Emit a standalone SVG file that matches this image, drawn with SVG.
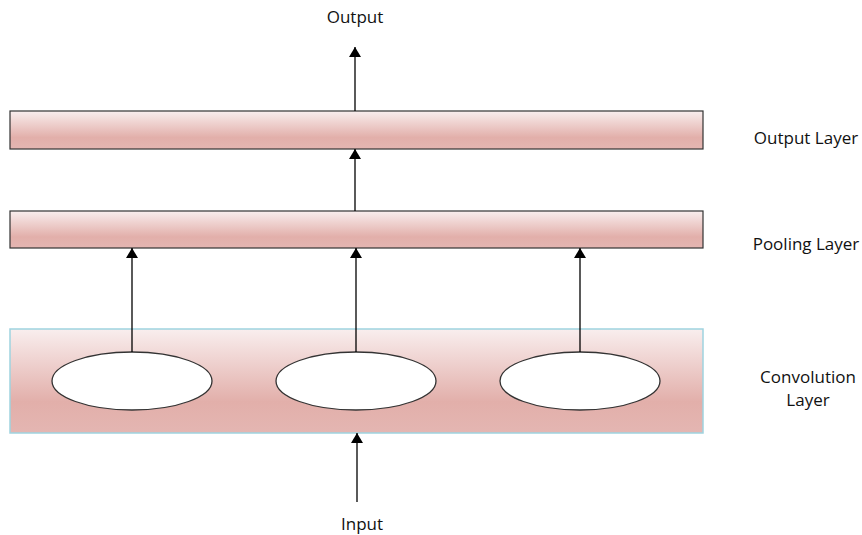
<svg xmlns="http://www.w3.org/2000/svg" width="862" height="535" viewBox="0 0 862 535">
<defs>
<linearGradient id="g" x1="0" y1="0" x2="0" y2="1">
<stop offset="0" stop-color="#f9eeee"/>
<stop offset="0.7" stop-color="#e2afaa"/>
<stop offset="1" stop-color="#e4b6b2"/>
</linearGradient>
<marker id="ah" viewBox="0 0 10 12" refX="10" refY="6" markerWidth="10" markerHeight="12" markerUnits="userSpaceOnUse" orient="auto">
<path d="M0,0 L10,6 L0,12 z" fill="#000"/>
</marker>
</defs>
<style>
.bar{fill:url(#g);stroke:#333;stroke-width:1.2}
.conv{fill:url(#g);stroke:#9fd3e0;stroke-width:1.5}
.ell{fill:#fff;stroke:#333;stroke-width:1.3}
.c{stroke:#000;stroke-width:1.3;fill:none;marker-end:url(#ah)}
text{font-family:"Open Sans","Liberation Sans",sans-serif;font-size:17px;fill:#111;text-anchor:middle}
</style>
<g id="outputLayer"><rect class="bar" x="10" y="111" width="693" height="38"/></g>
<g id="poolingLayer"><rect class="bar" x="10" y="211" width="693" height="37"/></g>
<g id="convolutionLayer"><rect class="conv" x="10" y="329" width="693" height="104"/></g>
<g id="e1"><ellipse class="ell" cx="132" cy="381" rx="80" ry="29"/></g>
<g id="e2"><ellipse class="ell" cx="356" cy="381" rx="80" ry="29"/></g>
<g id="e3"><ellipse class="ell" cx="580" cy="381" rx="80" ry="29"/></g>
<g id="connectors">
<line class="c" x1="132" y1="352" x2="132" y2="248"/>
<line class="c" x1="356" y1="352" x2="356" y2="248"/>
<line class="c" x1="580" y1="352" x2="580" y2="248"/>
<line class="c" x1="355" y1="211" x2="355" y2="149"/>
<line class="c" x1="355" y1="111" x2="355" y2="47"/>
<line class="c" x1="357" y1="502" x2="357" y2="433"/>
</g>
<g id="labels">
<text x="355" y="23">Output</text>
<text x="806" y="144">Output Layer</text>
<text x="806" y="250">Pooling Layer</text>
<text x="808" y="383">Convolution</text>
<text x="808" y="406">Layer</text>
<text x="362" y="530">Input</text>
</g>
</svg>
